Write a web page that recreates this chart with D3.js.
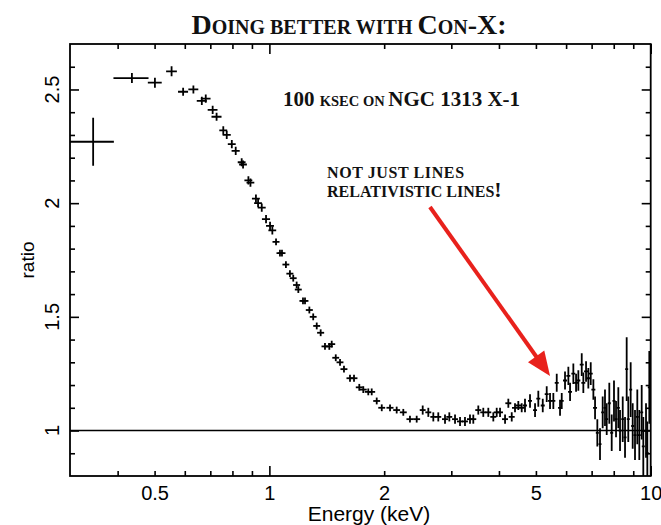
<!DOCTYPE html>
<html>
<head>
<meta charset="utf-8">
<script src="https://cdn.jsdelivr.net/npm/d3@7"></script>
<style>
  html, body { margin: 0; padding: 0; background: #fff; }
  svg { display: block; }
</style>
</head>
<body>
<script>
// Spectral ratio (data / continuum model) versus energy, with 1-sigma error crosses.
const energy = [
  0.345, 0.436, 0.501, 0.554, 0.594, 0.632, 0.665, 0.681, 0.710, 0.727,
  0.757, 0.773, 0.797, 0.816, 0.846, 0.853, 0.881, 0.892, 0.922, 0.934,
  0.955, 0.980, 1.004, 1.018, 1.041, 1.066, 1.079, 1.105, 1.132, 1.155,
  1.179, 1.191, 1.225, 1.240, 1.273, 1.303, 1.331, 1.363, 1.399, 1.436,
  1.457, 1.493, 1.532, 1.569, 1.627, 1.667, 1.721, 1.763, 1.817, 1.855,
  1.912, 1.971, 2.072, 2.157, 2.245, 2.337, 2.434, 2.524, 2.611, 2.691,
  2.773, 2.888, 2.964, 3.068, 3.162, 3.258, 3.358, 3.426, 3.531, 3.639,
  3.751, 3.866, 3.946, 4.026, 4.150, 4.233, 4.321, 4.407, 4.496, 4.589,
  4.681, 4.825, 4.974, 5.073, 5.211, 5.337, 5.445, 5.555, 5.670, 5.784,
  5.844, 5.961, 6.082, 6.145, 6.268, 6.372, 6.460, 6.594, 6.658, 6.768,
  6.862, 6.962, 7.074, 7.146, 7.245,
  7.363, 7.483, 7.588, 7.667, 7.788, 7.902, 8.012, 8.111, 8.224, 8.309,
  8.446, 8.564, 8.650, 8.734, 8.861, 8.970, 9.096, 9.223, 9.335, 9.471,
  9.563, 9.721, 9.798, 9.916
];

// half-width of each energy bin (keV)
const energyErr = [
  0.046, 0.046, 0.021, 0.018, 0.018, 0.019, 0.020, 0.020, 0.021, 0.022,
  0.018, 0.019, 0.019, 0.020, 0.020, 0.020, 0.021, 0.021, 0.022, 0.022,
  0.023, 0.024, 0.024, 0.024, 0.022, 0.022, 0.023, 0.023, 0.024, 0.024,
  0.025, 0.025, 0.026, 0.026, 0.027, 0.027, 0.028, 0.029, 0.029, 0.030,
  0.031, 0.031, 0.032, 0.033, 0.034, 0.035, 0.036, 0.037, 0.038, 0.039,
  0.040, 0.041, 0.044, 0.045, 0.047, 0.049, 0.051, 0.045, 0.047, 0.048,
  0.050, 0.052, 0.053, 0.055, 0.057, 0.059, 0.060, 0.062, 0.064, 0.066,
  0.068, 0.070, 0.071, 0.072, 0.075, 0.076, 0.078, 0.079, 0.081, 0.083,
  0.056, 0.058, 0.060, 0.061, 0.063, 0.064, 0.065, 0.067, 0.068, 0.069,
  0.070, 0.072, 0.073, 0.074, 0.075, 0.076, 0.078, 0.079, 0.080, 0.081,
  0.082, 0.084, 0.085, 0.086, 0.065,
  0.066, 0.067, 0.068, 0.069, 0.070, 0.071, 0.072, 0.073, 0.074, 0.075,
  0.076, 0.077, 0.078, 0.079, 0.080, 0.081, 0.082, 0.083, 0.084, 0.085,
  0.086, 0.087, 0.088, 0.089
];

const ratio = [
  2.27, 2.55, 2.53, 2.58, 2.49, 2.50, 2.45, 2.46, 2.41, 2.38,
  2.32, 2.30, 2.26, 2.23, 2.18, 2.17, 2.10, 2.09, 2.02, 2.00,
  1.98, 1.93, 1.90, 1.88, 1.83, 1.78, 1.78, 1.73, 1.69, 1.67,
  1.64, 1.62, 1.57, 1.57, 1.53, 1.50, 1.46, 1.43, 1.37, 1.37,
  1.38, 1.32, 1.30, 1.27, 1.23, 1.23, 1.19, 1.18, 1.17, 1.17,
  1.13, 1.10, 1.10, 1.09, 1.08, 1.05, 1.05, 1.09, 1.08, 1.06,
  1.06, 1.05, 1.06, 1.05, 1.04, 1.04, 1.05, 1.05, 1.09, 1.08,
  1.08, 1.06, 1.08, 1.08, 1.05, 1.12, 1.06, 1.10, 1.11, 1.10,
  1.11, 1.13, 1.09, 1.14, 1.11, 1.16, 1.13, 1.13, 1.21, 1.10,
  1.13, 1.22, 1.24, 1.17, 1.25, 1.21, 1.22, 1.29, 1.21, 1.26,
  1.23, 1.25, 1.18, 1.10, 0.99,
  0.94, 1.08, 1.10, 1.05, 1.12, 0.99, 1.13, 1.05, 1.10, 1.00,
  1.05, 0.97, 1.27, 1.05, 1.18, 1.02, 0.98, 1.06, 0.98, 1.08,
  0.93, 1.00, 0.90, 1.19
];

const ratioErr = [
  0.106, 0.022, 0.022, 0.022, 0.018, 0.018, 0.018, 0.018, 0.018, 0.018,
  0.018, 0.018, 0.018, 0.018, 0.018, 0.018, 0.018, 0.018, 0.018, 0.018,
  0.018, 0.018, 0.018, 0.018, 0.015, 0.015, 0.015, 0.015, 0.015, 0.015,
  0.015, 0.015, 0.015, 0.015, 0.015, 0.015, 0.015, 0.015, 0.015, 0.015,
  0.015, 0.015, 0.015, 0.015, 0.015, 0.015, 0.015, 0.015, 0.015, 0.015,
  0.015, 0.015, 0.015, 0.015, 0.015, 0.015, 0.015, 0.020, 0.020, 0.020,
  0.020, 0.020, 0.020, 0.020, 0.020, 0.020, 0.020, 0.020, 0.020, 0.020,
  0.020, 0.020, 0.020, 0.020, 0.020, 0.020, 0.020, 0.020, 0.020, 0.020,
  0.030, 0.030, 0.030, 0.035, 0.030, 0.035, 0.035, 0.035, 0.040, 0.035,
  0.035, 0.040, 0.040, 0.040, 0.045, 0.040, 0.045, 0.050, 0.045, 0.045,
  0.045, 0.050, 0.045, 0.050, 0.060,
  0.070, 0.070, 0.080, 0.070, 0.090, 0.080, 0.090, 0.080, 0.090, 0.090,
  0.100, 0.090, 0.140, 0.100, 0.120, 0.100, 0.110, 0.120, 0.110, 0.120,
  0.130, 0.120, 0.140, 0.160
];

const xTickLabels = [0.5, 1, 2, 5, 10];
const xMajorTicks = [1, 10];
const xMinorTicks = [0.4, 0.5, 0.6, 0.7, 0.8, 0.9, 2, 3, 4, 5, 6, 7, 8, 9];
const yTickLabels = [1, 1.5, 2, 2.5];
const yMinorTicks = [0.9, 1.1, 1.2, 1.3, 1.4, 1.6, 1.7, 1.8, 1.9, 2.1, 2.2, 2.3, 2.4, 2.6];

const W = 661, H = 525;
const plot = { left: 70, right: 650.7, top: 44, bottom: 476 };

const x = d3.scaleLog().domain([0.3, 10]).range([plot.left, plot.right]);
const y = d3.scaleLinear().domain([0.8, 2.7]).range([plot.bottom, plot.top]);

const svg = d3.select("body").append("svg")
  .attr("width", W).attr("height", H);

const sans = "'Liberation Sans', Arial, Helvetica, sans-serif";
const serif = "'Liberation Serif', 'Times New Roman', Times, serif";

svg.append("defs").append("clipPath").attr("id", "plotClip")
  .append("rect")
  .attr("x", plot.left).attr("y", plot.top)
  .attr("width", plot.right - plot.left).attr("height", plot.bottom - plot.top);

// ---- ticks (inward on all four sides) ----
function tickGroup(axis, tx, ty) {
  const g = svg.append("g").attr("transform", `translate(${tx},${ty})`).call(axis);
  g.select(".domain").remove();
  g.selectAll("line").attr("stroke", "#000").attr("stroke-width", 1.6);
  return g;
}
tickGroup(d3.axisBottom(x).tickValues(xMinorTicks).tickSize(-5).tickFormat(""), 0, plot.bottom);
tickGroup(d3.axisBottom(x).tickValues(xMajorTicks).tickSize(-10).tickFormat(""), 0, plot.bottom);
tickGroup(d3.axisTop(x).tickValues(xMinorTicks).tickSize(-5).tickFormat(""), 0, plot.top);
tickGroup(d3.axisTop(x).tickValues(xMajorTicks).tickSize(-10).tickFormat(""), 0, plot.top);
tickGroup(d3.axisLeft(y).tickValues(yMinorTicks).tickSize(-5).tickFormat(""), plot.left, 0);
tickGroup(d3.axisLeft(y).tickValues(yTickLabels).tickSize(-9).tickFormat(""), plot.left, 0);
tickGroup(d3.axisRight(y).tickValues(yMinorTicks).tickSize(-5).tickFormat(""), plot.right, 0);
tickGroup(d3.axisRight(y).tickValues(yTickLabels).tickSize(-9).tickFormat(""), plot.right, 0);

// ---- tick labels ----
const xl = svg.append("g").attr("transform", `translate(0,${plot.bottom})`)
  .call(d3.axisBottom(x).tickValues(xTickLabels).tickSize(0).tickPadding(10).tickFormat(d3.format("")));
xl.select(".domain").remove();
xl.selectAll("text").attr("font-family", sans).attr("font-size", 20).attr("fill", "#000");

svg.append("g").selectAll("text").data(yTickLabels).join("text")
  .attr("transform", d => `translate(59,${y(d)}) rotate(-90)`)
  .attr("text-anchor", "middle")
  .attr("font-family", sans).attr("font-size", 20).attr("fill", "#000")
  .text(d => d3.format("")(d));

svg.append("text")
  .attr("x", 369).attr("y", 521)
  .attr("text-anchor", "middle")
  .attr("font-family", sans).attr("font-size", 21)
  .text("Energy (keV)");

svg.append("text")
  .attr("transform", `translate(34,${(plot.top + plot.bottom) / 2}) rotate(-90)`)
  .attr("text-anchor", "middle")
  .attr("font-family", sans).attr("font-size", 19)
  .text("ratio");

// ---- unity reference line ----
svg.append("line")
  .attr("x1", plot.left).attr("x2", plot.right)
  .attr("y1", y(1)).attr("y2", y(1))
  .attr("stroke", "#000").attr("stroke-width", 1.6);

// ---- data crosses ----
const pts = d3.range(Math.min(energy.length, energyErr.length, ratio.length, ratioErr.length))
  .map(i => ({ e: energy[i], de: energyErr[i], r: ratio[i], dr: ratioErr[i] }));

const crosses = svg.append("g").attr("clip-path", "url(#plotClip)")
  .attr("stroke", "#000").attr("stroke-width", 1.8);
crosses.selectAll("line.h").data(pts).join("line").attr("class", "h")
  .attr("x1", d => x(d.e - d.de)).attr("x2", d => x(d.e + d.de))
  .attr("y1", d => y(d.r)).attr("y2", d => y(d.r));
crosses.selectAll("line.v").data(pts).join("line").attr("class", "v")
  .attr("x1", d => x(d.e)).attr("x2", d => x(d.e))
  .attr("y1", d => y(d.r - d.dr)).attr("y2", d => y(d.r + d.dr));

// ---- frame ----
svg.append("rect")
  .attr("x", plot.left).attr("y", plot.top)
  .attr("width", plot.right - plot.left).attr("height", plot.bottom - plot.top)
  .attr("fill", "none").attr("stroke", "#000").attr("stroke-width", 1.8);

// ---- small-caps helper: [text, size] runs ----
function capsText(parent, px, py, runs, anchor, spacing) {
  const t = parent.append("text")
    .attr("x", px).attr("y", py)
    .attr("text-anchor", anchor || "start")
    .attr("letter-spacing", spacing || 0)
    .attr("font-family", serif).attr("font-weight", "bold").attr("fill", "#111");
  runs.forEach(([s, size]) => t.append("tspan").attr("font-size", size).text(s));
  return t;
}

// title
capsText(svg, 349, 34, [
  ["D", 28], ["OING BETTER WITH ", 20], ["C", 28], ["ON", 20], ["-X:", 28]
], "middle");

// exposure note
capsText(svg, x(1.086), y(2.427), [
  ["100 ", 21], ["KSEC ON ", 14.5], ["NGC 1313 X-1", 21]
]);

// line annotation
capsText(svg, x(1.416), y(2.110), [["NOT JUST LINES", 16]], "start", 0.6);
capsText(svg, x(1.416), y(2.027), [["RELATIVISTIC LINES", 16], ["!", 22]]);

// arrow pointing at the broad iron feature
const a0 = { x: x(2.637), y: y(1.983) };
const a1 = { x: x(5.445), y: y(1.24) };
const ang = Math.atan2(a1.y - a0.y, a1.x - a0.x);
const headLen = 24, headHalf = 10;
const bx = a1.x - headLen * Math.cos(ang), by = a1.y - headLen * Math.sin(ang);
svg.append("line")
  .attr("x1", a0.x).attr("y1", a0.y).attr("x2", bx + 2 * Math.cos(ang)).attr("y2", by + 2 * Math.sin(ang))
  .attr("stroke", "#e8211c").attr("stroke-width", 4);
svg.append("path")
  .attr("d", d3.line()([
    [a1.x, a1.y],
    [bx + headHalf * Math.sin(ang), by - headHalf * Math.cos(ang)],
    [bx - headHalf * Math.sin(ang), by + headHalf * Math.cos(ang)]
  ]) + "Z")
  .attr("fill", "#e8211c");
</script>
</body>
</html>
